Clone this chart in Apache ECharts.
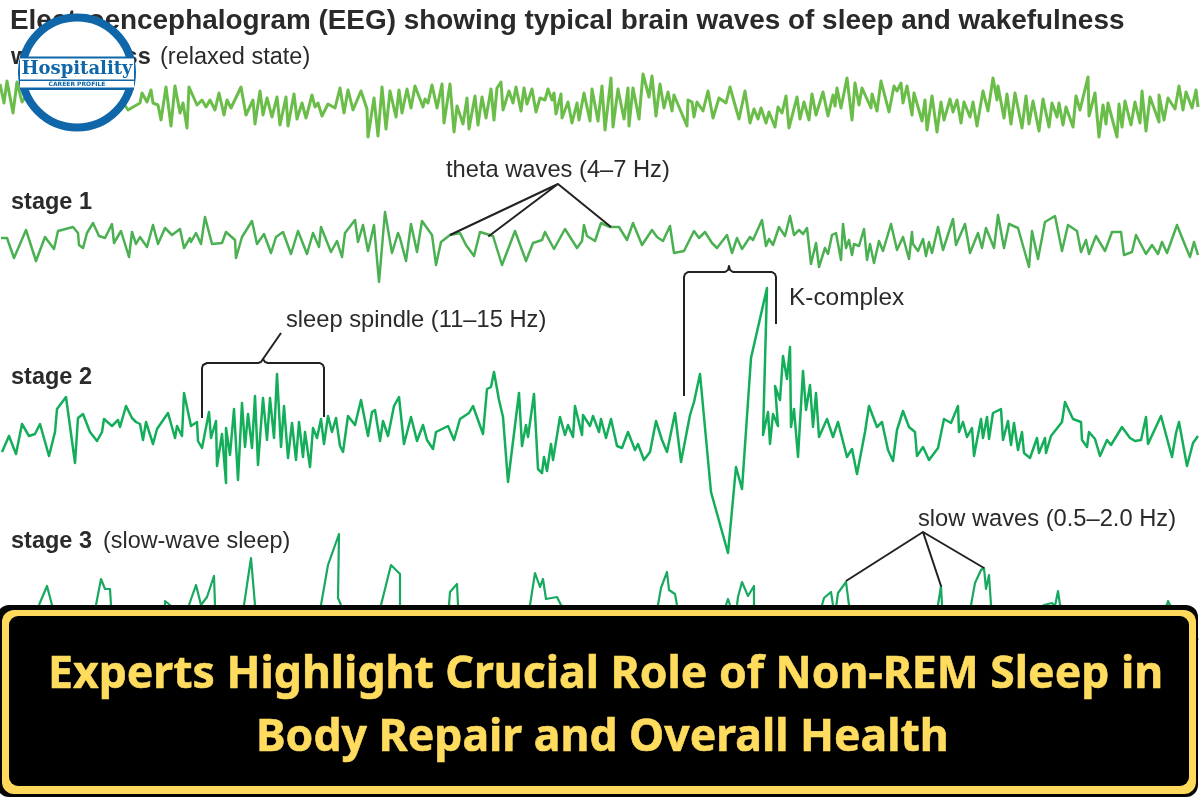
<!DOCTYPE html>
<html>
<head>
<meta charset="utf-8">
<title>EEG brain waves of sleep and wakefulness</title>
<script src="https://cdn.jsdelivr.net/npm/echarts@6/dist/echarts.min.js"></script>
<style>html,body{margin:0;padding:0;background:#fff}#chart{width:1200px;height:800px}</style>
</head>
<body>
<div id="chart"></div>
<script>
// EEG traces as [time, signal] samples; the signal axis runs downward.
const wakeTrace = [[0,84],[2,83],[4,103],[7,81],[13,113],[17,82],[22,102],[30,90],[45,112],[60,88],[75,110],[90,92],[105,112],[118,95],[128,110],[140,103],[142,93],[147,102],[151,90],[153,103],[158,105],[161,120],[166,87],[171,126],[175,86],[180,113],[183,103],[187,128],[189,87],[197,105],[202,100],[206,107],[210,100],[215,110],[219,93],[224,115],[227,100],[231,108],[241,87],[246,115],[253,100],[255,124],[260,91],[263,115],[267,98],[272,117],[277,97],[280,125],[286,97],[288,126],[294,94],[297,119],[302,103],[306,118],[312,95],[315,107],[318,103],[322,116],[328,104],[335,108],[340,88],[344,113],[348,90],[353,110],[361,91],[367,109],[368,137],[374,98],[378,136],[382,87],[386,129],[390,91],[396,117],[399,90],[402,113],[407,89],[411,108],[415,86],[423,107],[425,99],[428,103],[432,85],[437,108],[442,84],[444,123],[450,84],[454,132],[457,106],[463,124],[467,98],[469,129],[475,96],[478,125],[482,97],[486,118],[491,89],[494,120],[497,88],[501,82],[503,110],[509,91],[513,103],[516,87],[521,111],[524,88],[527,104],[532,89],[536,112],[540,98],[545,100],[548,89],[552,100],[554,93],[556,114],[561,94],[562,118],[568,102],[572,123],[577,103],[579,120],[584,93],[590,121],[592,89],[598,121],[602,86],[605,130],[611,78],[613,127],[618,89],[624,119],[628,88],[629,126],[633,88],[639,119],[643,74],[649,97],[652,76],[656,116],[660,84],[664,108],[668,92],[672,111],[674,95],[687,126],[688,100],[692,102],[694,117],[697,102],[703,111],[708,91],[713,118],[719,98],[726,103],[730,87],[735,105],[739,119],[745,91],[750,123],[754,109],[758,119],[761,108],[766,123],[769,112],[775,127],[778,107],[782,113],[786,96],[789,128],[797,97],[800,119],[804,102],[809,120],[812,94],[816,115],[823,92],[828,116],[833,95],[835,106],[837,88],[841,108],[847,78],[852,120],[855,83],[859,105],[862,88],[871,108],[872,94],[877,111],[881,81],[889,112],[894,86],[897,91],[901,83],[903,103],[907,86],[912,115],[914,93],[922,121],[925,100],[927,130],[932,96],[937,132],[941,102],[944,120],[950,99],[953,112],[957,100],[961,123],[964,102],[970,117],[973,102],[977,126],[983,91],[988,111],[993,78],[997,100],[998,86],[1004,118],[1007,94],[1011,124],[1015,93],[1022,128],[1026,96],[1029,124],[1033,101],[1039,131],[1043,99],[1049,127],[1052,103],[1057,117],[1059,103],[1063,125],[1066,107],[1073,127],[1076,96],[1080,110],[1088,77],[1089,116],[1095,93],[1099,137],[1103,105],[1106,124],[1108,103],[1117,137],[1119,104],[1122,127],[1125,101],[1131,125],[1135,102],[1140,123],[1142,91],[1146,131],[1150,97],[1159,122],[1159,95],[1164,120],[1168,98],[1175,109],[1179,86],[1183,110],[1186,92],[1192,108],[1196,90],[1198,107]];

const stage1Trace = [[1,238],[7,238],[14,258],[26,230],[36,261],[45,237],[54,249],[58,231],[73,227],[78,233],[79,245],[83,248],[87,233],[93,223],[99,236],[105,238],[112,224],[114,243],[121,231],[129,257],[132,232],[136,244],[140,237],[147,247],[153,225],[158,244],[165,228],[172,235],[180,229],[184,248],[190,238],[191,242],[196,233],[201,244],[205,217],[212,244],[222,243],[226,232],[235,240],[236,258],[242,237],[252,221],[257,244],[264,234],[271,253],[276,237],[283,232],[291,254],[298,231],[307,254],[313,233],[319,247],[321,227],[331,252],[337,241],[342,257],[345,233],[355,220],[358,242],[363,225],[368,251],[374,225],[379,282],[385,212],[392,253],[398,233],[400,238],[406,261],[411,224],[417,252],[422,221],[432,235],[436,265],[441,242],[450,235],[460,233],[466,245],[474,256],[480,232],[493,236],[502,265],[515,231],[526,261],[533,243],[542,240],[545,232],[554,249],[565,229],[577,248],[582,241],[584,225],[587,236],[595,241],[601,223],[610,227],[619,227],[627,240],[633,223],[642,245],[652,230],[657,237],[663,241],[670,226],[674,253],[684,251],[694,231],[699,238],[705,232],[712,243],[717,248],[727,235],[732,253],[737,238],[742,249],[750,237],[753,240],[762,220],[766,246],[769,239],[773,245],[779,227],[785,236],[790,216],[794,235],[799,230],[803,234],[807,228],[811,264],[816,243],[819,267],[825,248],[828,254],[832,235],[836,233],[841,260],[843,224],[846,248],[849,240],[852,255],[854,244],[859,246],[864,229],[867,260],[870,244],[874,263],[879,241],[883,251],[891,224],[897,250],[903,237],[909,259],[912,232],[913,244],[918,251],[923,239],[926,256],[929,242],[932,253],[938,227],[943,250],[953,219],[956,245],[965,224],[970,253],[978,233],[982,248],[986,228],[994,248],[998,215],[1004,248],[1009,224],[1018,228],[1029,267],[1032,231],[1038,259],[1045,222],[1055,216],[1062,251],[1068,225],[1077,231],[1081,252],[1086,240],[1089,254],[1096,236],[1105,251],[1112,232],[1121,232],[1124,255],[1132,252],[1136,235],[1146,254],[1152,245],[1158,254],[1162,242],[1167,253],[1177,225],[1185,245],[1190,257],[1194,242],[1198,255]];

const stage2Trace = [[2,452],[9,436],[16,454],[22,424],[29,436],[35,434],[40,424],[49,456],[55,432],[57,409],[66,397],[75,463],[78,418],[83,414],[90,432],[97,441],[102,432],[104,419],[112,426],[118,420],[120,427],[126,406],[132,418],[136,422],[140,424],[143,440],[146,422],[153,444],[157,429],[168,413],[175,438],[177,426],[182,436],[184,393],[191,426],[197,422],[198,441],[202,448],[209,412],[211,438],[216,421],[217,466],[222,434],[226,483],[226,428],[230,455],[234,409],[238,480],[242,403],[245,447],[248,414],[252,448],[255,396],[258,465],[263,398],[267,440],[270,398],[274,438],[277,374],[281,447],[284,406],[288,458],[292,423],[296,460],[299,422],[303,457],[305,432],[310,467],[313,428],[317,438],[321,419],[324,444],[328,416],[332,432],[336,418],[340,446],[343,452],[348,416],[355,425],[361,400],[368,436],[372,412],[375,410],[380,441],[383,421],[388,436],[394,406],[399,397],[404,444],[411,417],[417,441],[423,425],[427,440],[433,449],[436,432],[448,426],[454,440],[460,419],[469,413],[473,406],[483,434],[487,389],[491,387],[494,372],[499,400],[503,417],[508,482],[519,393],[522,446],[526,425],[528,437],[534,394],[538,469],[542,473],[544,457],[547,471],[551,444],[553,460],[560,417],[565,435],[568,425],[573,437],[575,406],[582,435],[583,415],[590,426],[593,416],[599,432],[601,419],[606,438],[611,419],[617,446],[622,448],[628,432],[635,450],[638,444],[644,460],[650,452],[656,421],[662,440],[667,452],[675,413],[681,462],[690,415],[694,402],[700,374],[711,492],[728,553],[736,467],[742,489],[751,358],[767,288],[763,435],[768,412],[770,444],[773,414],[778,426],[775,386],[780,400],[783,356],[787,379],[790,347],[791,427],[794,409],[798,457],[803,371],[806,410],[810,385],[813,427],[816,393],[819,437],[827,419],[833,437],[838,422],[847,457],[852,449],[857,474],[865,432],[869,406],[877,427],[882,422],[888,450],[893,461],[897,430],[903,411],[909,427],[915,432],[917,456],[923,447],[929,460],[938,448],[944,419],[951,423],[958,406],[959,432],[963,422],[967,437],[972,428],[974,456],[981,419],[983,438],[987,417],[989,439],[993,413],[1001,409],[1003,440],[1008,421],[1011,445],[1014,423],[1018,450],[1022,432],[1024,453],[1030,458],[1037,438],[1039,453],[1045,438],[1046,453],[1051,436],[1062,422],[1065,402],[1073,419],[1081,422],[1082,440],[1087,447],[1089,432],[1095,439],[1100,456],[1107,440],[1111,445],[1122,427],[1130,438],[1135,441],[1141,440],[1146,417],[1148,444],[1161,416],[1172,457],[1176,433],[1179,422],[1187,466],[1193,443],[1198,436]];

const stage3Trace = [[39,605],[47,586],[52,605],[74,640],[96,605],[101,579],[105,589],[110,589],[111,605],[138,640],[165,605],[165,601],[170,605],[180,635],[189,605],[196,585],[201,605],[207,597],[214,576],[215,605],[230,640],[244,605],[251,558],[255,605],[288,645],[321,605],[328,565],[339,534],[338,598],[341,605],[361,640],[381,605],[391,565],[400,574],[400,605],[424,640],[449,605],[450,592],[457,584],[458,605],[494,640],[530,605],[535,573],[540,587],[543,579],[546,599],[557,597],[561,605],[610,645],[658,605],[661,588],[667,572],[669,590],[675,594],[677,605],[701,640],[726,605],[728,599],[730,605],[733,625],[737,605],[738,597],[742,582],[748,596],[754,586],[754,605],[788,640],[822,605],[824,598],[831,592],[833,605],[835,615],[838,593],[846,582],[849,605],[893,645],[938,605],[941,586],[942,605],[956,635],[971,605],[975,583],[981,570],[984,568],[986,589],[989,575],[991,605],[1018,640],[1044,605],[1052,603],[1055,606],[1058,591],[1060,605],[1113,640],[1167,605],[1168,601],[1170,605],[1198,640]];

// Leader lines and brackets that tie the wave names to their features.
const thetaLeaders = [[450,235],[558,184],[489,236],[558,184],[611,227]];
const spindleBracket = [[202,418],[202,368],[203,365],[207,363],[258,363],[261,362],[263,359],[265,362],[268,363],[320,363],[323,365],[324,368],[324,417]];
const spindleLeader = [[263,359],[281,333]];
const kComplexBracket = [[684,396],[684,277],[685,274],[688,272],[725,272],[728,270],[729,266],[730,270],[733,272],[772,272],[775,274],[776,277],[776,324]];
const slowLeaders = [[846,581],[923,532],[941,586],[923,532],[984,568]];

const traceColors = ['#6bbd4a', '#4bb052', '#14ad5a', '#18a860'];
const traces = [wakeTrace, stage1Trace, stage2Trace, stage3Trace];
const traceWidths = [3, 2.5, 2.5, 2.2];
const annotations = [thetaLeaders, spindleBracket, spindleLeader, kComplexBracket, slowLeaders];

const sansFont = '"Liberation Sans", Arimo, Helvetica, Arial, sans-serif';
const ink = '#2a2a2a';
const bannerFont = 'bold 44.5px "Noto Sans", sans-serif';

function plotText(text, x, y, size, weight) {
  return { type: 'text', z: 10, style: { text, x, y, fill: ink, font: `${weight} ${size}px ${sansFont}`, verticalAlign: 'middle' } };
}

const graphics = [
  plotText('Electroencephalogram (EEG) showing typical brain waves of sleep and wakefulness', 10, 21, 27.9, 'bold'),
  plotText('wakefulness', 11, 58, 23.5, 'bold'),
  plotText('(relaxed state)', 160, 58, 23.5, 'normal'),
  plotText('stage 1', 11, 203, 23.5, 'bold'),
  plotText('stage 2', 11, 378, 23.5, 'bold'),
  plotText('stage 3', 11, 542, 23.5, 'bold'),
  plotText('(slow-wave sleep)', 103, 542, 23.4, 'normal'),
  plotText('theta waves (4–7 Hz)', 446, 170, 23.7, 'normal'),
  plotText('sleep spindle (11–15 Hz)', 286, 320, 23.7, 'normal'),
  plotText('K-complex', 789, 298, 24.4, 'normal'),
  plotText('slow waves (0.5–2.0 Hz)', 918, 519, 23.7, 'normal'),

  // Banner across the bottom: black plaque with a yellow rim
  { type: 'rect', z: 30, shape: { x: -3, y: 605, width: 1201, height: 192, r: 12 }, style: { fill: '#060606' } },
  { type: 'rect', z: 30, shape: { x: 2, y: 610, width: 1194, height: 184, r: 12 }, style: { fill: '#ffd95c' } },
  { type: 'rect', z: 30, shape: { x: 9, y: 616, width: 1180, height: 170, r: 9 }, style: { fill: '#000000' } },
  { type: 'text', z: 31, style: { text: 'Experts Highlight Crucial Role of Non-REM Sleep in', x: 48, y: 675, fill: '#ffdc5e', stroke: '#ffdc5e', lineWidth: 0.6, font: bannerFont, verticalAlign: 'middle' } },
  { type: 'text', z: 31, style: { text: 'Body Repair and Overall Health', x: 256, y: 738, fill: '#ffdc5e', stroke: '#ffdc5e', lineWidth: 0.6, font: bannerFont, verticalAlign: 'middle' } },

  // Round badge in the top-left corner
  { type: 'circle', z: 40, shape: { cx: 77, cy: 72.5, r: 55 }, style: { fill: '#ffffff', stroke: '#0f66a8', lineWidth: 8 } },
  { type: 'rect', z: 41, shape: { x: 20, y: 57, width: 114, height: 33 }, style: { fill: '#ffffff' } },
  { type: 'rect', z: 42, shape: { x: 20, y: 56.5, width: 114, height: 2 }, style: { fill: '#0f66a8' } },
  { type: 'rect', z: 42, shape: { x: 20, y: 79.5, width: 114, height: 1.5 }, style: { fill: '#0f66a8' } },
  { type: 'rect', z: 42, shape: { x: 20, y: 87.5, width: 114, height: 2.5 }, style: { fill: '#0f66a8' } },
  { type: 'text', z: 43, style: { text: 'Hospitality', x: 77, y: 69, align: 'center', verticalAlign: 'middle', fill: '#0f66a8', font: 'bold 18px "DejaVu Serif", serif' } },
  { type: 'text', z: 43, style: { text: 'CAREER PROFILE', x: 77, y: 84, align: 'center', verticalAlign: 'middle', fill: '#0f66a8', font: 'bold 6px "DejaVu Sans", sans-serif' } }
];

const series = traces.map((data, i) => ({
  type: 'line', data, symbol: 'none', z: 2, silent: true,
  lineStyle: { color: traceColors[i], width: traceWidths[i], join: 'round' }
})).concat(annotations.map((data) => ({
  type: 'line', data, symbol: 'none', z: 3, silent: true,
  lineStyle: { color: '#222222', width: 2, join: 'round' }
})));

const chart = echarts.init(document.getElementById('chart'), null, { renderer: 'canvas' });
chart.setOption({
  animation: false,
  backgroundColor: '#ffffff',
  grid: { left: 0, right: 0, top: 0, bottom: 0 },
  xAxis: { type: 'value', min: 0, max: 1200, show: false },
  yAxis: { type: 'value', min: 0, max: 800, inverse: true, show: false },
  tooltip: { show: false },
  series,
  graphic: { elements: graphics }
});
</script>
</body>
</html>
